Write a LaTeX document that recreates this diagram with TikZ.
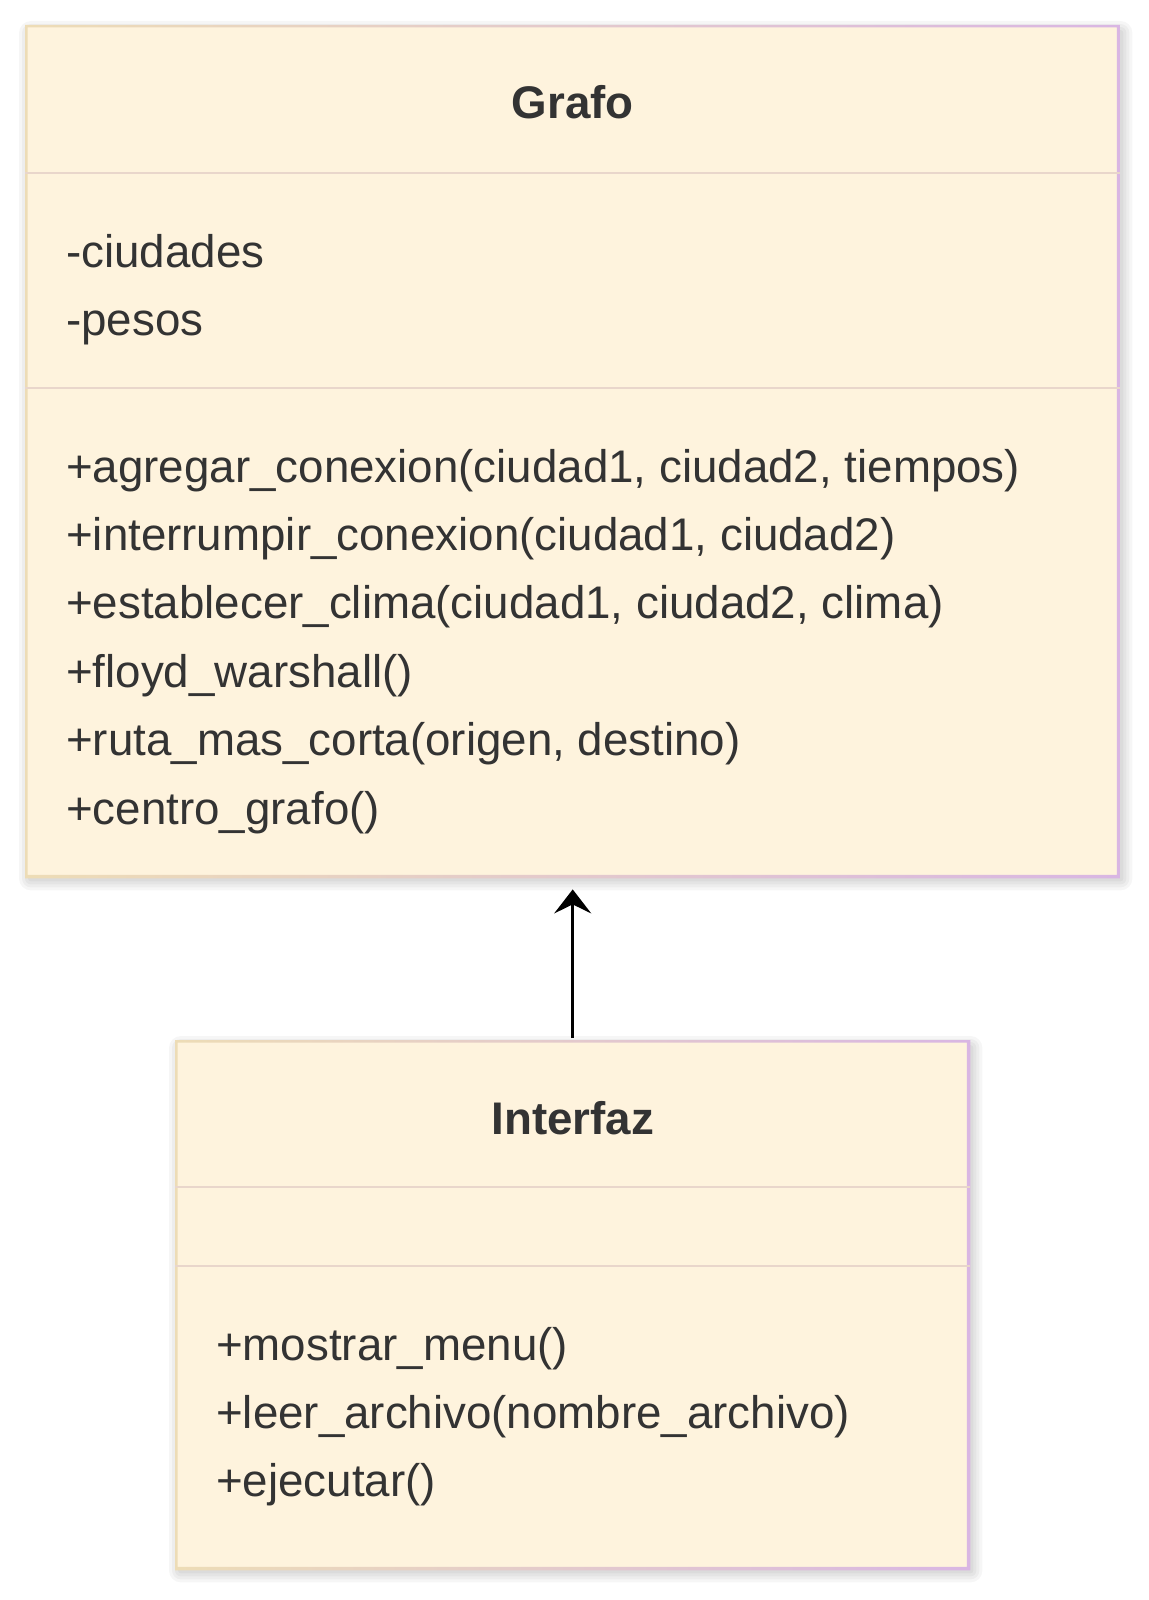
\documentclass[tikz,border=0pt]{standalone}
\usepackage{fontspec}
\setmainfont{Liberation Sans}
\usetikzlibrary{arrows.meta}
\definecolor{boxfill}{HTML}{FEF3DD}
\definecolor{edgeA}{HTML}{EDDCB6}
\definecolor{edgeB}{HTML}{D9B6E3}
\definecolor{divider}{HTML}{E9D6CB}
\definecolor{txt}{HTML}{333333}
\tikzset{
  classbox/.style={rectangle, fill=boxfill, inner sep=0pt, anchor=north west},
  member/.style={anchor=base west, inner sep=0pt, text=txt, font=\fontsize{45.7}{50}\selectfont},
  classtitle/.style={anchor=base, inner sep=0pt, text=txt, font=\fontsize{45.7}{50}\selectfont\bfseries},
  divline/.style={draw=divider, line width=2pt},
  shadowlayer/.style={fill=black, opacity=0.035},
  inherit/.style={draw=black, line width=2.5pt, -{Stealth[length=24pt,width=37pt,inset=9pt]}},
}
\newcommand{\boxshadow}[1]{%
  \foreach \r in {0,3,6,9,12}{%
    \fill[shadowlayer, rounded corners=\r pt]
      ([shift={(6-\r,8-\r)}]#1.north west) rectangle ([shift={(\r,\r)}]#1.south east);
  }%
}
\newcommand{\gradframe}[1]{%
  \shade[even odd rule, left color=edgeA, right color=edgeB]
    (#1.north west) rectangle (#1.south east)
    ([shift={(2.5,2.5)}]#1.north west) rectangle ([shift={(-3.5,-3.5)}]#1.south east);
}
\begin{document}
\begin{tikzpicture}[x=1pt,y=-1pt]
\useasboundingbox[fill=white] (0,0) rectangle (1148,1600);

% Grafo class
\coordinate (gtl) at (25,25);
\coordinate (itl) at (175,1040);
\path (gtl) node[classbox, minimum width=1095pt, minimum height=853pt, fill=none] (grafoshape) {};
\boxshadow{grafoshape}
\node[classbox, minimum width=1095pt, minimum height=853pt] (grafo) at (gtl) {};
\gradframe{grafo}
\draw[divline] (grafo.west |- 0,173) -- (grafo.east |- 0,173);
\draw[divline] (grafo.west |- 0,388) -- (grafo.east |- 0,388);
\node[classtitle] (gtitle) at (grafo.center |- 0,119) {Grafo};
\node[member] (ga1) at (66,267) {-ciudades};
\node[member] (ga2) at (66,335) {-pesos};
\node[member] (gm1) at (66,482) {+agregar\_conexion(ciudad1, ciudad2, tiempos)};
\node[member] (gm2) at (66,550.4) {+interrumpir\_conexion(ciudad1, ciudad2)};
\node[member] (gm3) at (66,618.8) {+establecer\_clima(ciudad1, ciudad2, clima)};
\node[member] (gm4) at (66,687.2) {+floyd\_warshall()};
\node[member] (gm5) at (66,755.6) {+ruta\_mas\_corta(origen, destino)};
\node[member] (gm6) at (66,824) {+centro\_grafo()};

% Interfaz class
\path (itl) node[classbox, minimum width=795pt, minimum height=530pt, fill=none] (interfazshape) {};
\boxshadow{interfazshape}
\node[classbox, minimum width=795pt, minimum height=530pt] (interfaz) at (itl) {};
\gradframe{interfaz}
\draw[divline] (interfaz.west |- 0,1187) -- (interfaz.east |- 0,1187);
\draw[divline] (interfaz.west |- 0,1266) -- (interfaz.east |- 0,1266);
\node[classtitle] (ititle) at (interfaz.center |- 0,1134) {Interfaz};
\node[member] (im1) at (216,1360) {+mostrar\_menu()};
\node[member] (im2) at (216,1428.4) {+leer\_archivo(nombre\_archivo)};
\node[member] (im3) at (216,1496.8) {+ejecutar()};

% inheritance arrow
\draw[inherit] ([yshift=2pt]interfaz.north) -- ([yshift=-11pt]grafo.south);
\end{tikzpicture}
\end{document}
